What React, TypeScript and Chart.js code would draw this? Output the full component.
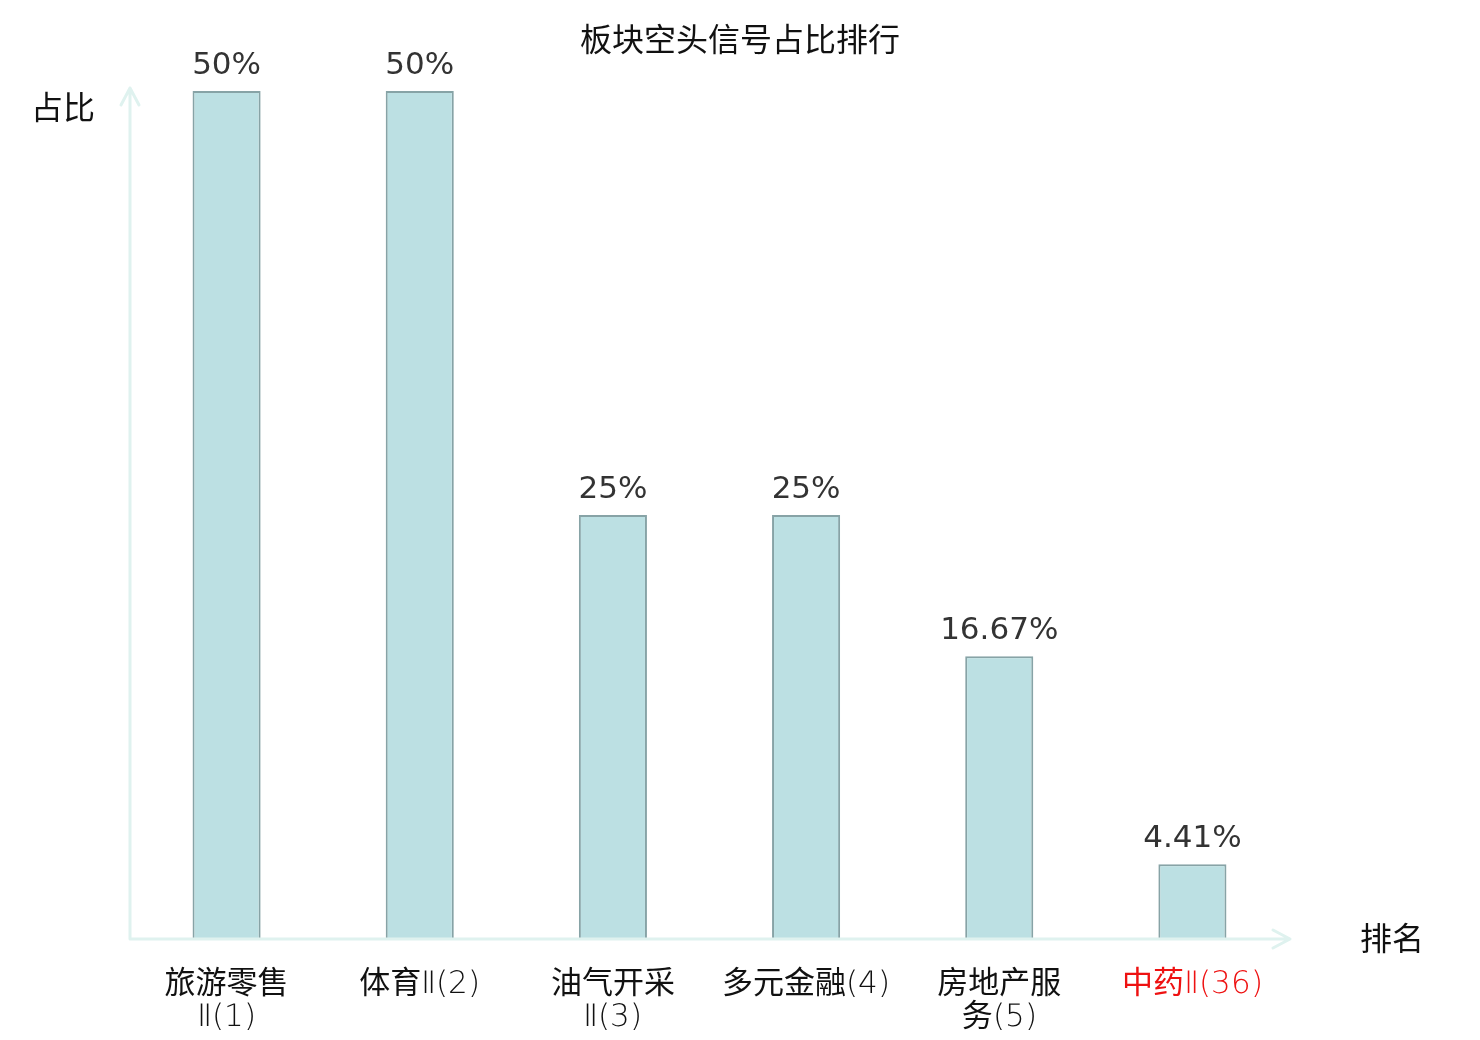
import { useEffect, useRef } from 'react';
import { Chart, registerables } from 'chart.js';

Chart.register(...registerables);

const categories: (string | string[])[] = [
    ['旅游零售', 'Ⅱ(1)'],
    '体育Ⅱ(2)',
    ['油气开采', 'Ⅱ(3)'],
    '多元金融(4)',
    ['房地产服', '务(5)'],
    '中药Ⅱ(36)',
];
const values = [50, 50, 25, 25, 16.67, 4.41];
const valueLabels = ['50%', '50%', '25%', '25%', '16.67%', '4.41%'];
const tickColors = ['#111', '#111', '#111', '#111', '#111', '#ee1111'];

const TITLE = '板块空头信号占比排行';
const Y_NAME = '占比';
const X_NAME = '排名';

const FONT = '"DejaVu Sans", "Noto Sans CJK SC", sans-serif';
// thin latin glyphs, regular CJK glyphs
const TICK_FONT = 'TickLatin, "Noto Sans CJK SC", sans-serif';
const AXIS_COLOR = '#dff2ef';

const FONT_CSS = `
@font-face {
  font-family: 'TickLatin';
  src: local('DejaVu Sans ExtraLight'), local('DejaVuSans-ExtraLight');
  unicode-range: U+0000-21FF;
}`;

const decorPlugin = {
    id: 'decor',
    afterDatasetsDraw(chart: Chart) {
        const { ctx, chartArea } = chart;
        const { left, right, top, bottom } = chartArea;
        ctx.save();

        // value labels above bars
        const meta = chart.getDatasetMeta(0);
        ctx.font = `31px ${FONT}`;
        ctx.fillStyle = '#333';
        ctx.textAlign = 'center';
        ctx.textBaseline = 'alphabetic';
        meta.data.forEach((bar: any, i: number) => {
            ctx.fillText(valueLabels[i], bar.x, bar.y - 17);
        });

        // axes with arrows
        ctx.strokeStyle = AXIS_COLOR;
        ctx.lineWidth = 3;
        ctx.lineCap = 'round';
        ctx.lineJoin = 'round';
        ctx.beginPath();
        ctx.moveTo(left, bottom);
        ctx.lineTo(left, top - 3);
        ctx.moveTo(left - 9, top + 14);
        ctx.lineTo(left, top - 3);
        ctx.lineTo(left + 9, top + 14);
        ctx.moveTo(left, bottom);
        ctx.lineTo(right + 1, bottom);
        ctx.moveTo(right - 16, bottom - 9);
        ctx.lineTo(right + 1, bottom);
        ctx.lineTo(right - 16, bottom + 9);
        ctx.stroke();

        // title and axis names
        ctx.fillStyle = '#111';
        ctx.textBaseline = 'middle';
        ctx.textAlign = 'center';
        ctx.font = `32px ${FONT}`;
        ctx.fillText(TITLE, chart.width / 2, 43);
        ctx.fillText(Y_NAME, 63, 111);
        ctx.fillText(X_NAME, 1392, 942);
        ctx.restore();
    },
};

export default function App() {
    const chartRef = useRef<HTMLCanvasElement | null>(null);

    useEffect(() => {
        document.body.style.margin = '0';
        const style = document.createElement('style');
        style.textContent = FONT_CSS;
        document.head.appendChild(style);

        let chart: Chart | null = null;
        let cancelled = false;

        const build = () => {
            if (cancelled || !chartRef.current) return;
            const ctx = chartRef.current.getContext('2d');
            if (!ctx) return;
            chart = new Chart(ctx, {
                type: 'bar',
                data: {
                    labels: categories,
                    datasets: [
                        {
                            data: values,
                            backgroundColor: '#bce0e3',
                            borderColor: '#87a3a6',
                            borderWidth: 2,
                            barPercentage: 0.705,
                            categoryPercentage: 0.5,
                        },
                    ],
                },
                options: {
                    responsive: false,
                    animation: false,
                    layout: {
                        padding: { left: 130, right: 191, top: 91, bottom: 0 },
                    },
                    plugins: {
                        legend: { display: false },
                        tooltip: { enabled: false },
                        title: { display: false },
                    },
                    scales: {
                        x: {
                            grid: { display: false, drawTicks: false },
                            border: { display: false },
                            ticks: {
                                padding: 30,
                                maxRotation: 0,
                                autoSkip: false,
                                color: tickColors,
                                font: { family: TICK_FONT, size: 31, lineHeight: 1.05 },
                            },
                            afterFit: (scale: any) => {
                                scale.height = 101;
                            },
                        },
                        y: {
                            display: false,
                            min: 0,
                            max: 50,
                        },
                    },
                },
                plugins: [decorPlugin],
            });
        };

        document.fonts
            .load('31px TickLatin', 'Ⅱ(36)')
            .catch(() => null)
            .then(build);

        return () => {
            cancelled = true;
            if (chart) chart.destroy();
            style.remove();
        };
    }, []);

    return (
        <div style={{ width: 1480, height: 1040, background: '#fff' }}>
            <canvas ref={chartRef} width={1480} height={1040} style={{ width: 1480, height: 1040 }}></canvas>
        </div>
    );
}
